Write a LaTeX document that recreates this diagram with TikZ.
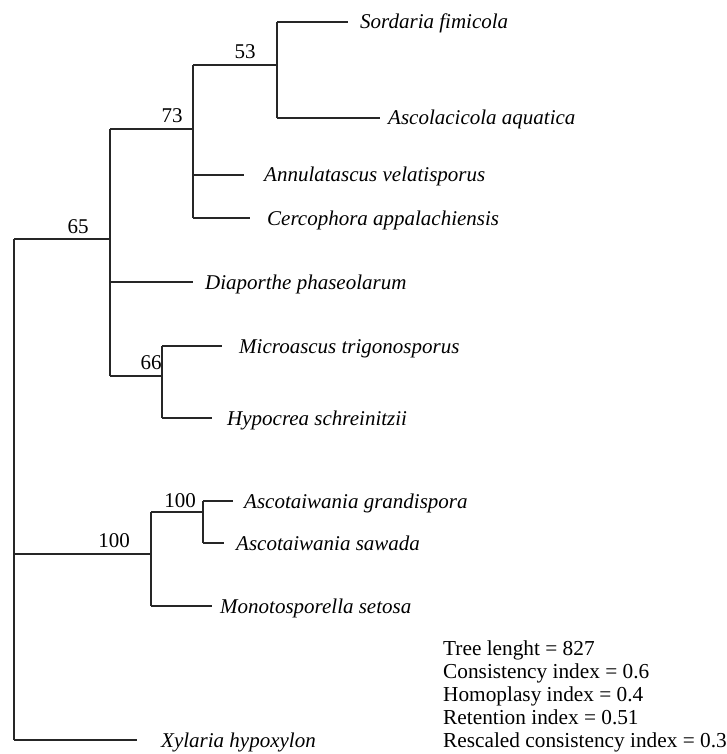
\documentclass[tikz,border=0pt]{standalone}
\usepackage{fontspec}
\setmainfont{Liberation Serif}
\begin{document}
\begin{tikzpicture}[x=1pt,y=-1pt,
  branch/.style={draw=black!85,line width=1.3pt},
  leaf/.style={anchor=base west,inner sep=0pt,font=\fontsize{21}{23}\selectfont\itshape},
  support/.style={anchor=base,inner sep=0pt,font=\fontsize{21}{23}\selectfont},
  stats/.style={anchor=base west,inner sep=0pt,align=left,font=\fontsize{21.3}{23}\selectfont}]
\useasboundingbox (0,0) rectangle (726,754);
% internal nodes (x of vertical, y of attachment)
\coordinate (root) at (14,554);
\coordinate (n65) at (110,239);
\coordinate (n73) at (193,129);
\coordinate (n53) at (277,65);
\coordinate (n66) at (162,376);
\coordinate (nA) at (151,554);
\coordinate (nB) at (203,512);
% leaf tips
\coordinate (tSor) at (348,22);
\coordinate (tAsc) at (380,118);
\coordinate (tAnn) at (244,175);
\coordinate (tCer) at (250,218);
\coordinate (tDia) at (193,282);
\coordinate (tMic) at (222,346);
\coordinate (tHyp) at (212,418);
\coordinate (tGra) at (233,501);
\coordinate (tSaw) at (224,543);
\coordinate (tMon) at (212,606);
\coordinate (tXyl) at (137,740);
% leaf labels
\node[leaf] (lSor) at (360,29) {Sordaria fimicola};
\node[leaf] (lAsc) at (388,125) {Ascolacicola aquatica};
\node[leaf] (lAnn) at (264,182) {Annulatascus velatisporus};
\node[leaf] (lCer) at (267,225) {Cercophora appalachiensis};
\node[leaf] (lDia) at (205,289) {Diaporthe phaseolarum};
\node[leaf] (lMic) at (239,353) {Microascus trigonosporus};
\node[leaf] (lHyp) at (227,425) {Hypocrea schreinitzii};
\node[leaf] (lGra) at (244,508) {Ascotaiwania grandispora};
\node[leaf] (lSaw) at (236,550) {Ascotaiwania sawada};
\node[leaf] (lMon) at (220,613) {Monotosporella setosa};
\node[leaf] (lXyl) at (161,747) {Xylaria hypoxylon};
% support values
\node[support] (s53) at (245,59) {53};
\node[support] (s73) at (172,123) {73};
\node[support] (s65) at (78,233) {65};
\node[support] (s66) at (151,369) {66};
\node[support] (sB) at (180,507) {100};
\node[support] (sA) at (114,547) {100};
% statistics
\node[stats] (st1) at (443,655) {Tree lenght = 827};
\node[stats] (st2) at (443,678) {Consistency index = 0.6};
\node[stats] (st3) at (443,701) {Homoplasy index = 0.4};
\node[stats] (st4) at (443,724) {Retention index = 0.51};
\node[stats] (st5) at (443,747) {Rescaled consistency index = 0.3};
% branches
\draw[branch] (root |- n65) -- (root |- tXyl);
\draw[branch] (root |- n65) -- (n65);
\draw[branch] (root |- nA) -- (nA);
\draw[branch] (root |- tXyl) -- (tXyl);
\draw[branch] (n65 |- n73) -- (n65 |- n66);
\draw[branch] (n65 |- n73) -- (n73);
\draw[branch] (n65 |- tDia) -- (tDia);
\draw[branch] (n65 |- n66) -- (n66);
\draw[branch] (n73 |- n53) -- (n73 |- tCer);
\draw[branch] (n73 |- n53) -- (n53);
\draw[branch] (n73 |- tAnn) -- (tAnn);
\draw[branch] (n73 |- tCer) -- (tCer);
\draw[branch] (n53 |- tSor) -- (n53 |- tAsc);
\draw[branch] (n53 |- tSor) -- (tSor);
\draw[branch] (n53 |- tAsc) -- (tAsc);
\draw[branch] (n66 |- tMic) -- (n66 |- tHyp);
\draw[branch] (n66 |- tMic) -- (tMic);
\draw[branch] (n66 |- tHyp) -- (tHyp);
\draw[branch] (nA |- nB) -- (nA |- tMon);
\draw[branch] (nA |- nB) -- (nB);
\draw[branch] (nA |- tMon) -- (tMon);
\draw[branch] (nB |- tGra) -- (nB |- tSaw);
\draw[branch] (nB |- tGra) -- (tGra);
\draw[branch] (nB |- tSaw) -- (tSaw);
\end{tikzpicture}
\end{document}
